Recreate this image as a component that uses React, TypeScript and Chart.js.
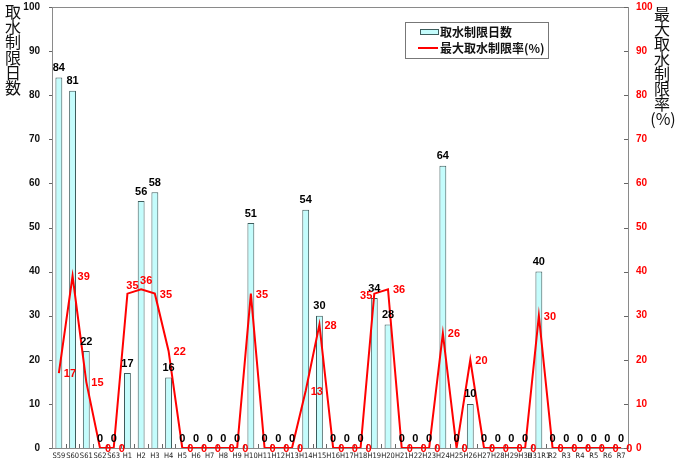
import { useEffect, useRef } from 'react';
import { Chart, registerables } from 'chart.js';

Chart.register(...registerables);

// 年度
const years = [
  'S59', 'S60', 'S61', 'S62', 'S63',
  'H1', 'H2', 'H3', 'H4', 'H5', 'H6', 'H7', 'H8', 'H9', 'H10',
  'H11', 'H12', 'H13', 'H14', 'H15', 'H16', 'H17', 'H18', 'H19', 'H20',
  'H21', 'H22', 'H23', 'H24', 'H25', 'H26', 'H27', 'H28', 'H29', 'H30',
  'H31R1', 'R2', 'R3', 'R4', 'R5', 'R6', 'R7',
];

// 取水制限日数
const limitDays = [
  84, 81, 22, 0, 0,
  17, 56, 58, 16, 0, 0, 0, 0, 0, 51,
  0, 0, 0, 54, 30, 0, 0, 0, 34, 28,
  0, 0, 0, 64, 0, 10, 0, 0, 0, 0,
  40, 0, 0, 0, 0, 0, 0,
];

// 最大取水制限率(%)
const maxRate = [
  17, 39, 15, 0, 0,
  35, 36, 35, 22, 0, 0, 0, 0, 0, 35,
  0, 0, 0, 13, 28, 0, 0, 0, 35, 36,
  0, 0, 0, 26, 0, 20, 0, 0, 0, 0,
  30, 0, 0, 0, 0, 0, 0,
];

const leftTitle = '取水制限日数';
const rightTitle = '最大取水制限率';
const legendBar = '取水制限日数';
const legendLine = '最大取水制限率(%)';

// 赤ラベルの置き方の例外 (Excel の自動配置に合わせる)
const rateLabelAbove = ['H1', 'H2'];
const rateLabelLeft = ['H19'];

const BAR_FILL = '#c4fcfc';
const BAR_EDGE = '#3d5c5c';
const RED = '#ff0000';
const NUM_FONT = '"Liberation Sans", Arial, sans-serif';
const NARROW_FONT = '"Liberation Sans Narrow", "DejaVu Sans Condensed", "Liberation Sans", sans-serif';
const JP_FONT = '"Noto Sans CJK JP", sans-serif';

const decorPlugin = {
  id: 'decor',
  beforeDatasetsDraw(chart: any) {
    const { ctx, chartArea: a } = chart;
    ctx.save();
    // 枠
    ctx.strokeStyle = '#8a8a8a';
    ctx.lineWidth = 1;
    ctx.strokeRect(a.left + 0.5, a.top + 0.5, a.right - a.left, a.bottom - a.top);
    ctx.strokeStyle = '#666';
    ctx.beginPath();
    // 左軸の外向き目盛・右軸の内向き目盛
    const y = chart.scales.y;
    y.ticks.forEach((t: any) => {
      const py = Math.round(y.getPixelForValue(t.value)) + 0.5;
      ctx.moveTo(a.left - 3, py);
      ctx.lineTo(a.left, py);
      ctx.moveTo(a.right - 4, py);
      ctx.lineTo(a.right, py);
    });
    // x軸の区切り目盛
    const x = chart.scales.x;
    const step = (a.right - a.left) / years.length;
    for (let i = 1; i < years.length; i++) {
      const px = Math.round(x.left + step * i) + 0.5;
      ctx.moveTo(px, a.bottom);
      ctx.lineTo(px, a.bottom - 4);
    }
    ctx.stroke();
    ctx.restore();
  },
  afterDatasetsDraw(chart: any) {
    const { ctx } = chart;
    ctx.save();
    // 棒の値
    ctx.font = `bold 11px ${NUM_FONT}`;
    ctx.fillStyle = '#000';
    ctx.textAlign = 'center';
    ctx.textBaseline = 'bottom';
    chart.getDatasetMeta(0).data.forEach((el: any, i: number) => {
      ctx.fillText(String(limitDays[i]), el.x, el.y - 4);
    });
    // 折れ線の値
    ctx.fillStyle = RED;
    ctx.textBaseline = 'middle';
    chart.getDatasetMeta(1).data.forEach((el: any, i: number) => {
      const name = years[i];
      if (rateLabelLeft.includes(name)) {
        ctx.textAlign = 'right';
        ctx.fillText(String(maxRate[i]), el.x - 2, el.y + 2);
      } else if (rateLabelAbove.includes(name)) {
        ctx.textAlign = 'center';
        ctx.fillText(String(maxRate[i]), el.x + 5, el.y - 8);
      } else {
        ctx.textAlign = 'left';
        ctx.fillText(String(maxRate[i]), el.x + 5, el.y + 1);
      }
    });
    ctx.restore();
  },
  afterDraw(chart: any) {
    const { ctx } = chart;
    ctx.save();
    // 軸タイトル (縦書き)
    ctx.fillStyle = '#111';
    ctx.font = `16px ${JP_FONT}`;
    ctx.textAlign = 'center';
    ctx.textBaseline = 'middle';
    [...leftTitle].forEach((c, i) => ctx.fillText(c, 13, 12 + i * 15.2));
    [...rightTitle].forEach((c, i) => ctx.fillText(c, 662, 14 + i * 15));
    ctx.fillText('(%)', 663, 119);

    // 凡例
    const lx = 405, ly = 22, lw = 143, lh = 36;
    ctx.fillStyle = '#fff';
    ctx.fillRect(lx, ly, lw, lh);
    ctx.strokeStyle = '#777';
    ctx.lineWidth = 1;
    ctx.strokeRect(lx + 0.5, ly + 0.5, lw, lh);
    ctx.fillStyle = BAR_FILL;
    ctx.fillRect(420, 29, 18, 5);
    ctx.strokeStyle = BAR_EDGE;
    ctx.strokeRect(420.5, 29.5, 18, 5);
    ctx.strokeStyle = RED;
    ctx.lineWidth = 2;
    ctx.beginPath();
    ctx.moveTo(418, 48);
    ctx.lineTo(438, 48);
    ctx.stroke();
    ctx.fillStyle = '#111';
    ctx.font = `bold 12px ${JP_FONT}`;
    ctx.textAlign = 'left';
    ctx.fillText(legendBar, 440, 32);
    ctx.fillText(legendLine, 440, 48);
    ctx.restore();
  },
};

const fitY = (s: any) => {
  s.width = 44;
  s.paddingTop = 0;
  s.paddingBottom = 0;
};

const App = () => {
  const canvasRef = useRef<HTMLCanvasElement>(null);

  useEffect(() => {
    document.body.style.margin = '0';
    if (!canvasRef.current) return;

    const chart = new Chart(canvasRef.current, {
      type: 'bar',
      data: {
        labels: years,
        datasets: [
          {
            type: 'bar',
            label: legendBar,
            data: limitDays,
            backgroundColor: BAR_FILL,
            borderColor: BAR_EDGE,
            borderWidth: 1,
            categoryPercentage: 1,
            barPercentage: 0.5,
            yAxisID: 'y',
            order: 2,
          },
          {
            type: 'line',
            label: legendLine,
            data: maxRate,
            borderColor: RED,
            borderWidth: 2,
            pointRadius: 0,
            tension: 0,
            yAxisID: 'y2',
            order: 1,
          } as any,
        ],
      },
      options: {
        responsive: false,
        animation: false,
        layout: { padding: { left: 8, right: 8, top: 7, bottom: 0 } },
        plugins: {
          legend: { display: false },
          tooltip: { enabled: false },
        },
        scales: {
          x: {
            grid: { display: false, drawTicks: false },
            border: { color: '#666' },
            ticks: {
              autoSkip: false,
              maxRotation: 0,
              minRotation: 0,
              padding: 4,
              color: '#222',
              font: { family: NARROW_FONT, size: 7.5 },
            },
            afterFit: (s: any) => {
              s.height = 14;
              s.paddingLeft = 0;
              s.paddingRight = 0;
            },
          },
          y: {
            position: 'left',
            min: 0,
            max: 100,
            grid: { display: false, drawTicks: false },
            border: { color: '#666' },
            ticks: {
              stepSize: 10,
              padding: 12,
              color: '#111',
              font: { family: NUM_FONT, size: 10, weight: 'bold' },
            },
            afterFit: fitY,
          },
          y2: {
            position: 'right',
            min: 0,
            max: 100,
            grid: { display: false, drawTicks: false },
            border: { color: '#666' },
            ticks: {
              stepSize: 10,
              padding: 8,
              color: RED,
              font: { family: NUM_FONT, size: 10, weight: 'bold' },
            },
            afterFit: fitY,
          },
        },
      },
      plugins: [decorPlugin],
    });

    return () => {
      chart.destroy();
    };
  }, []);

  return (
    <div style={{ width: 680, height: 462, background: '#fff' }}>
      <canvas ref={canvasRef} width={680} height={462} />
    </div>
  );
};

export default App;
